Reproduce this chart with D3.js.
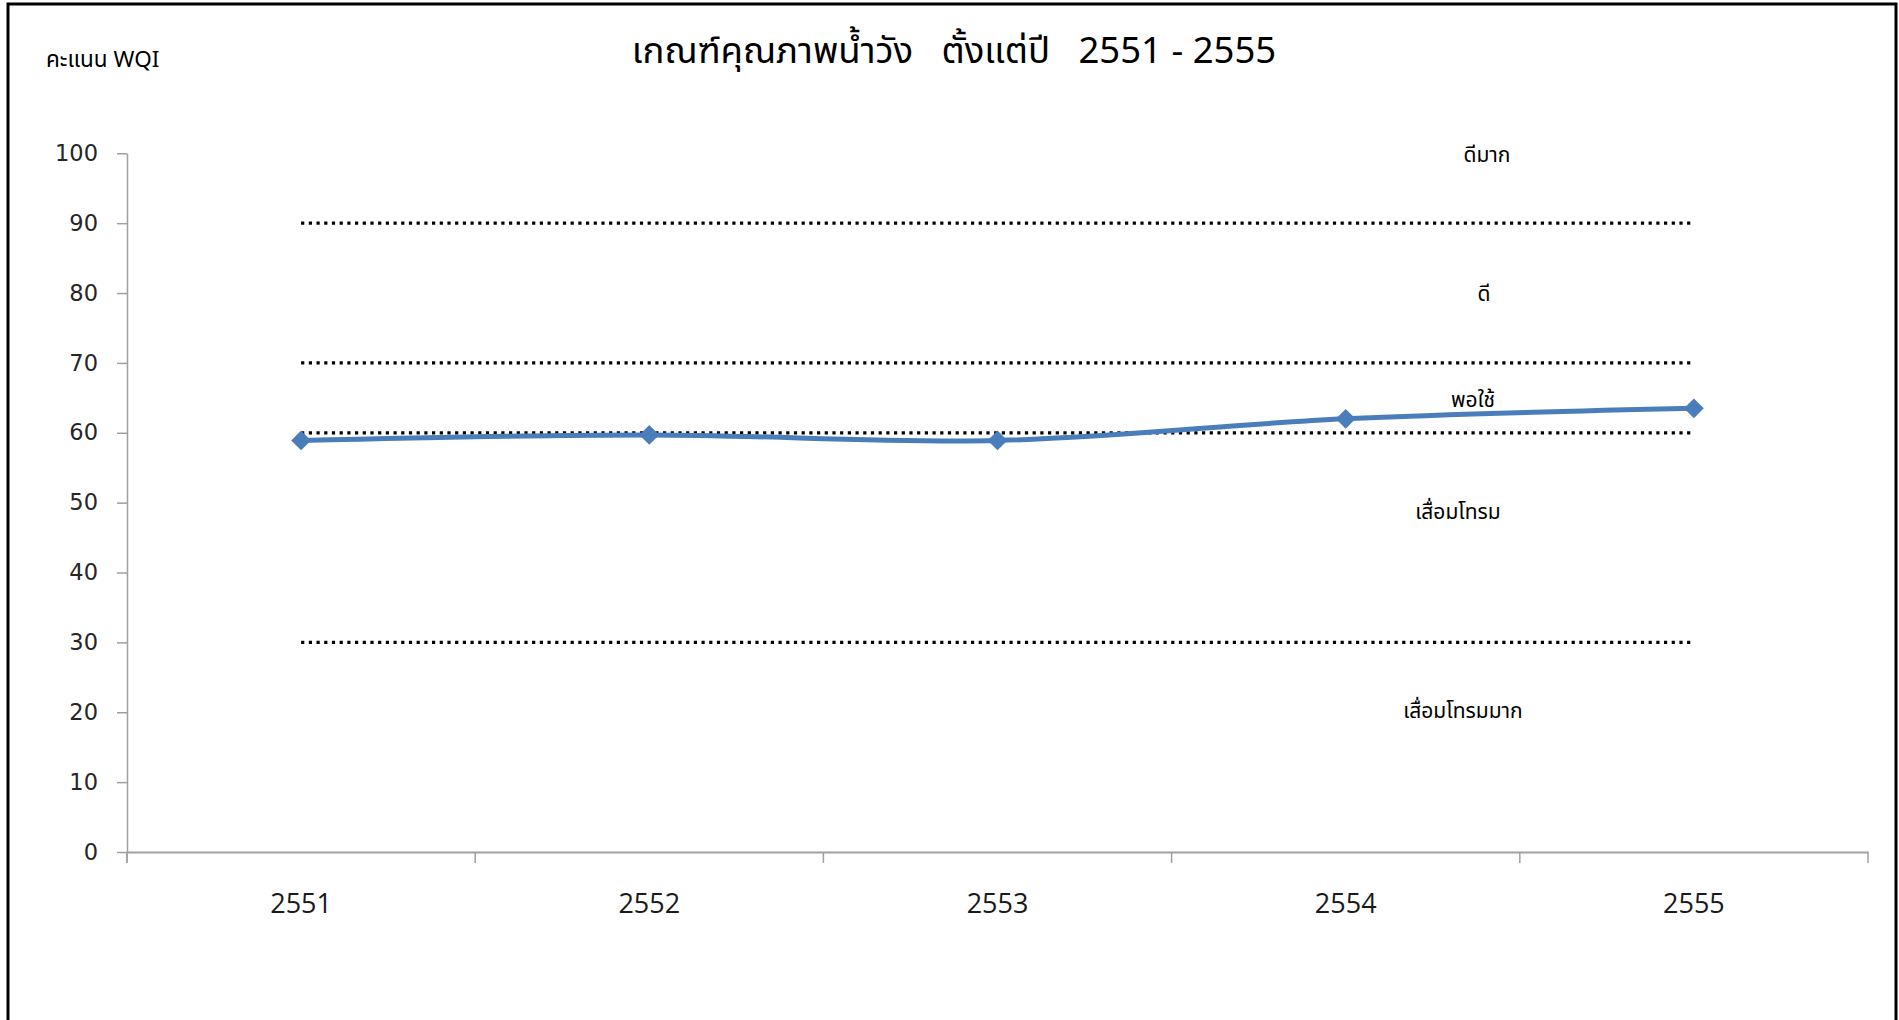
<!DOCTYPE html>
<html>
<head>
<meta charset="utf-8">
<script src="https://cdn.jsdelivr.net/npm/d3@7"></script>
<style>
  html, body { margin: 0; padding: 0; background: #fff; }
  svg { display: block; }
  text { white-space: pre; }
</style>
</head>
<body>
<svg id="chart" width="1899" height="1020"></svg>
<script>
// ---- data ----
const years = ["2551", "2552", "2553", "2554", "2555"];
const wqi = [58.9, 59.7, 58.9, 62.0, 63.5];
const thresholds = [90, 70, 60, 30];
const yTicks = [0, 10, 20, 30, 40, 50, 60, 70, 80, 90, 100];
const zoneNames = ["ดีมาก", "ดี", "พอใช้", "เสื่อมโทรม", "เสื่อมโทรมมาก"];
const zoneLevels = [99.8, 79.9, 64.7, 48.7, 20.2];
const titleText = "เกณฑ์คุณภาพน้ำวัง   ตั้งแต่ปี   2551 - 2555";
const yAxisTitle = "คะแนน WQI";

// ---- layout ----
const svg = d3.select("#chart");
const plot = { left: 127, right: 1868, top: 153.3, bottom: 852 };
const thaiFont = "'Noto Sans Thai', 'Open Sans', 'Noto Sans', sans-serif";
const latinFont = "'Open Sans', 'Noto Sans Thai', sans-serif";

// frame
svg.append("rect")
  .attr("x", 8).attr("y", 4).attr("width", 1888).attr("height", 1030)
  .attr("fill", "#fff").attr("stroke", "#000").attr("stroke-width", 3);

const x = d3.scaleBand().domain(years).range([plot.left, plot.right]).paddingInner(0).paddingOuter(0);
const y = d3.scaleLinear().domain([0, 100]).range([plot.bottom, plot.top]);
const cx = d => x(d) + x.bandwidth() / 2;

// y axis
const yAxis = svg.append("g")
  .attr("transform", `translate(${plot.left},0)`)
  .call(d3.axisLeft(y).tickValues(yTicks).tickSize(10).tickSizeOuter(0).tickPadding(19));
yAxis.select(".domain").attr("stroke", "#a0a0a0").attr("stroke-width", 1.5);
yAxis.selectAll(".tick line").attr("stroke", "#a0a0a0").attr("stroke-width", 1.5);
yAxis.selectAll(".tick text")
  .attr("font-family", "'DejaVu Sans', Verdana, sans-serif")
  .attr("font-size", 22.5).attr("fill", "#262626");
// extension of y axis below zero
svg.append("line")
  .attr("x1", plot.left).attr("x2", plot.left)
  .attr("y1", y(0)).attr("y2", y(0) + 11)
  .attr("stroke", "#a0a0a0").attr("stroke-width", 1.5);

// x axis
const xAxis = svg.append("g")
  .attr("transform", `translate(0,${plot.bottom})`)
  .call(d3.axisBottom(x).tickSize(0).tickSizeOuter(0).tickPadding(0));
xAxis.select(".domain").attr("stroke", "#a0a0a0").attr("stroke-width", 2);
xAxis.selectAll(".tick text")
  .attr("y", 61).attr("dy", 0)
  .attr("font-family", latinFont)
  .attr("font-size", 27).attr("fill", "#1a1a1a");
// boundary tick marks (between categories)
const boundaries = years.map(d => x(d)).concat([x.range()[1]]);
svg.append("g").selectAll("line").data(boundaries).join("line")
  .attr("x1", d => d).attr("x2", d => d)
  .attr("y1", plot.bottom).attr("y2", plot.bottom + 11)
  .attr("stroke", "#a0a0a0").attr("stroke-width", 1.5);

// threshold dotted lines
svg.append("g").selectAll("line").data(thresholds).join("line")
  .attr("x1", cx(years[0])).attr("x2", cx(years[years.length - 1]))
  .attr("y1", d => y(d)).attr("y2", d => y(d))
  .attr("stroke", "#000").attr("stroke-width", 3.2)
  .attr("stroke-dasharray", "3.2 4.5");

// WQI line
const line = d3.line()
  .x((d, i) => cx(years[i]))
  .y(d => y(d))
  .curve(d3.curveCatmullRom.alpha(0.5));
svg.append("path")
  .datum(wqi)
  .attr("d", line)
  .attr("fill", "none")
  .attr("stroke", "#4a7ebb")
  .attr("stroke-width", 5)
  .attr("stroke-linejoin", "round");

// diamond markers
const diamond = d3.symbol().type(d3.symbolDiamond2).size(250);
svg.append("g").selectAll("path").data(wqi).join("path")
  .attr("transform", (d, i) => `translate(${cx(years[i])},${y(d)})`)
  .attr("d", diamond)
  .attr("fill", "#4a7ebb");

// zone labels
const zoneX = [1487, 1484, 1473, 1458, 1463];
svg.append("g").selectAll("text").data(zoneNames).join("text")
  .attr("x", (d, i) => zoneX[i])
  .attr("y", (d, i) => y(zoneLevels[i]))
  .attr("dy", "0.35em")
  .attr("text-anchor", "middle")
  .attr("font-family", thaiFont)
  .attr("font-size", 21)
  .attr("fill", "#000")
  .text(d => d);

// title
svg.append("text")
  .attr("x", 954).attr("y", 63)
  .attr("text-anchor", "middle")
  .attr("font-family", thaiFont)
  .attr("font-size", 36.5)
  .attr("fill", "#000")
  .text(titleText);

// y axis title
svg.append("text")
  .attr("x", 46).attr("y", 67)
  .attr("font-family", thaiFont)
  .attr("font-size", 22.5)
  .attr("fill", "#000")
  .text(yAxisTitle);
</script>
</body>
</html>
